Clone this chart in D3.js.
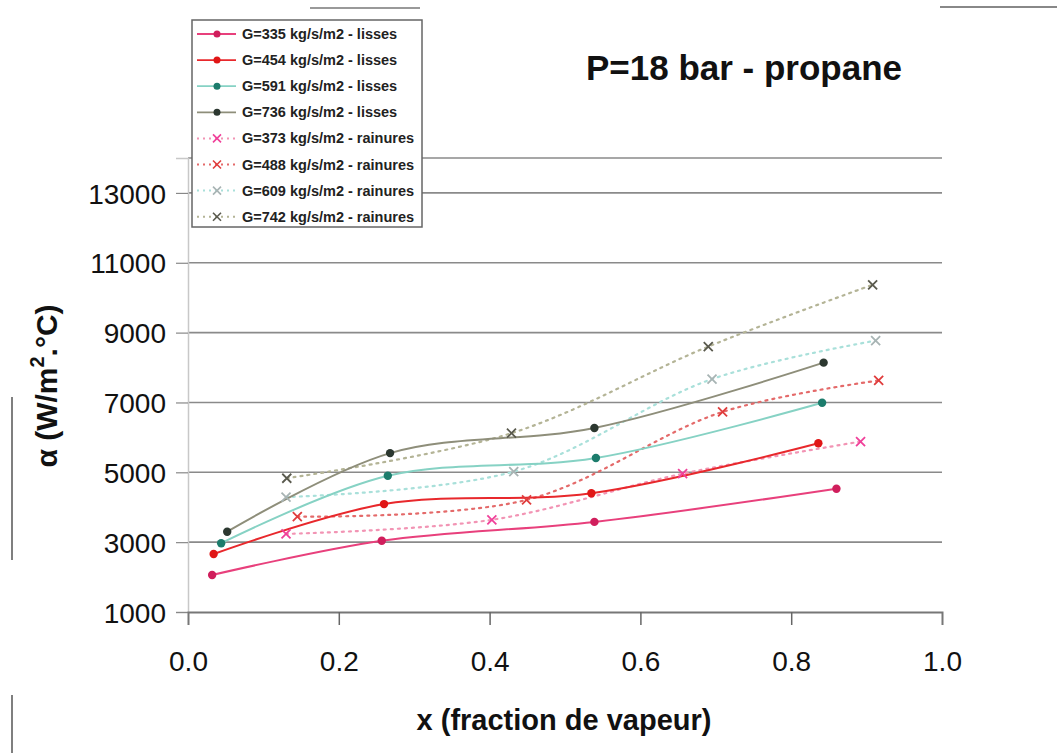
<!DOCTYPE html>
<html><head><meta charset="utf-8">
<script src="https://cdn.jsdelivr.net/npm/d3@7"></script>
<style>
html,body{margin:0;padding:0;background:#fff;}
svg{display:block;font-family:"Liberation Sans",Arial,sans-serif;}
</style></head>
<body>
<svg id="chart" width="1057" height="753"></svg>
<script>
// ---- data ----
const title = "P=18 bar - propane";
const xTitle = "x (fraction de vapeur)";
const xTicks = [0, 0.2, 0.4, 0.6, 0.8, 1.0];
const yTicks = [1000, 3000, 5000, 7000, 9000, 11000, 13000];

const seriesNames = [
  "G=335 kg/s/m2 - lisses",
  "G=454 kg/s/m2 - lisses",
  "G=591 kg/s/m2 - lisses",
  "G=736 kg/s/m2 - lisses",
  "G=373 kg/s/m2 - rainures",
  "G=488 kg/s/m2 - rainures",
  "G=609 kg/s/m2 - rainures",
  "G=742 kg/s/m2 - rainures"
];
const x335 = [0.032, 0.257, 0.539, 0.860];
const y335 = [2060, 3040, 3580, 4530];
const x454 = [0.034, 0.260, 0.535, 0.836];
const y454 = [2660, 4090, 4400, 5830];
const x591 = [0.044, 0.265, 0.541, 0.841];
const y591 = [2970, 4900, 5410, 6990];
const x736 = [0.052, 0.268, 0.539, 0.843];
const y736 = [3300, 5550, 6270, 8140];
const x373 = [0.130, 0.403, 0.656, 0.892];
const y373 = [3235, 3640, 4960, 5880];
const x488 = [0.145, 0.449, 0.709, 0.916];
const y488 = [3730, 4210, 6730, 7630];
const x609 = [0.130, 0.432, 0.695, 0.912];
const y609 = [4290, 5020, 7670, 8770];
const x742 = [0.131, 0.429, 0.690, 0.908];
const y742 = [4830, 6120, 8600, 10370];

const xs = [x335, x454, x591, x736, x373, x488, x609, x742];
const ys = [y335, y454, y591, y736, y373, y488, y609, y742];

// ---- styles ----
const lineColors = ["#e8407c", "#e8282c", "#86d2c4", "#8e8e7a", "#f294b4", "#e46a6a", "#a9e0da", "#b4b496"];
const markColors = ["#d01e5c", "#e01616", "#1c7c6c", "#2c3830", "#f0409a", "#e03c3c", "#a8b4b4", "#5a5a4e"];
const kinds = ["o","o","o","o","x","x","x","x"];

const svg = d3.select("#chart");
const x = d3.scaleLinear().domain([0, 1]).range([188, 942]);
const y = d3.scaleLinear().domain([1000, 14000]).range([612, 158]);

// scan artifacts (decorative)
svg.append("line").attr("x1",310).attr("x2",420).attr("y1",8).attr("y2",8).attr("stroke","#999").attr("stroke-width",2);
svg.append("line").attr("x1",940).attr("x2",1057).attr("y1",7).attr("y2",7).attr("stroke","#888").attr("stroke-width",2);
svg.append("line").attr("x1",12).attr("x2",12).attr("y1",397).attr("y2",560).attr("stroke","#555").attr("stroke-width",1.5);
svg.append("line").attr("x1",12).attr("x2",12).attr("y1",695).attr("y2",753).attr("stroke","#555").attr("stroke-width",1.5);

// gridlines
const grid = svg.append("g");
grid.selectAll("line.g").data(yTicks.filter(d => d > 1000).concat([14000])).enter().append("line")
  .attr("x1", x(0)).attr("x2", x(1))
  .attr("y1", d => y(d)).attr("y2", d => y(d))
  .attr("stroke", "#8a8a8a").attr("stroke-width", 1.6);

// y axis
const yAxis = svg.append("g").attr("transform", `translate(${x(0)},0)`)
  .call(d3.axisLeft(y).tickValues(yTicks).tickSize(12).tickPadding(10).tickFormat(d3.format("d")));
yAxis.select(".domain").attr("stroke", "#c8c8c8").attr("stroke-width", 1.5);
yAxis.selectAll(".tick line").attr("stroke", "#888").attr("stroke-width", 1.2);
yAxis.selectAll(".tick text").attr("font-size", 28).attr("fill", "#111").attr("dy", "0.36em");

// x axis
const xAxis = svg.append("g").attr("transform", `translate(0,${y(1000)})`)
  .call(d3.axisBottom(x).tickValues(xTicks).tickSize(13).tickPadding(26).tickFormat(d3.format(".1f")));
xAxis.select(".domain").attr("stroke", "#777").attr("stroke-width", 2);
xAxis.selectAll(".tick line").attr("stroke", "#666").attr("stroke-width", 1.5)
  .attr("opacity", d => (d === 0 || d === 1) ? 0 : 1);
xAxis.selectAll(".tick text").attr("font-size", 28).attr("fill", "#111");

// series
const line = d3.line().x(d => x(d[0])).y(d => y(d[1])).curve(d3.curveCatmullRom.alpha(0.5));
const plot = svg.append("g");
const order = [4,5,6,7,0,1,2,3];
order.forEach(i => {
  const pts = xs[i].map((v, j) => [v, ys[i][j]]);
  plot.append("path").datum(pts).attr("d", line).attr("fill", "none")
    .attr("stroke", lineColors[i])
    .attr("stroke-width", kinds[i] === "o" ? 2 : 2.2)
    .attr("stroke-dasharray", kinds[i] === "o" ? null : "2,5")
    .attr("stroke-linecap", "round");
});
order.forEach(i => {
  const pts = xs[i].map((v, j) => [v, ys[i][j]]);
  if (kinds[i] === "o") {
    plot.selectAll(null).data(pts).enter().append("circle")
      .attr("cx", d => x(d[0])).attr("cy", d => y(d[1])).attr("r", 4.2)
      .attr("fill", markColors[i]);
  } else {
    plot.selectAll(null).data(pts).enter().append("path")
      .attr("d", d => { const cx = x(d[0]), cy = y(d[1]), s = 4.5;
        return `M${cx-s},${cy-s}L${cx+s},${cy+s}M${cx-s},${cy+s}L${cx+s},${cy-s}`; })
      .attr("stroke", markColors[i]).attr("stroke-width", 1.8).attr("fill", "none");
  }
});

// title
svg.append("text").attr("x", 744).attr("y", 80).attr("text-anchor", "middle")
  .attr("font-size", 35).attr("font-weight", "bold").attr("fill", "#111").text(title);

// x title
svg.append("text").attr("x", 564).attr("y", 730).attr("text-anchor", "middle")
  .attr("font-size", 29).attr("font-weight", "bold").attr("fill", "#111").text(xTitle);

// y title
const yt = svg.append("text").attr("transform", "translate(57,386) rotate(-90)").attr("text-anchor", "middle")
  .attr("font-size", 30).attr("font-weight", "bold").attr("fill", "#111");
yt.append("tspan").text("α (W/m");
yt.append("tspan").attr("dy", -13).attr("font-size", 20).text("2");
yt.append("tspan").attr("dy", 13).text(".°C)");

// legend
const lg = svg.append("g");
lg.append("rect").attr("x", 192).attr("y", 20).attr("width", 230).attr("height", 207)
  .attr("fill", "#fff").attr("stroke", "#666").attr("stroke-width", 1.5);
seriesNames.forEach((name, i) => {
  const cy = 34 + i * 26.1;
  lg.append("line").attr("x1", 197).attr("x2", 236).attr("y1", cy).attr("y2", cy)
    .attr("stroke", lineColors[i]).attr("stroke-width", kinds[i] === "o" ? 1.8 : 2)
    .attr("stroke-dasharray", kinds[i] === "o" ? null : "2,4");
  if (kinds[i] === "o") {
    lg.append("circle").attr("cx", 217).attr("cy", cy).attr("r", 3.5).attr("fill", markColors[i]);
  } else {
    const s = 4;
    lg.append("path").attr("d", `M${217-s},${cy-s}L${217+s},${cy+s}M${217-s},${cy+s}L${217+s},${cy-s}`)
      .attr("stroke", markColors[i]).attr("stroke-width", 1.6);
  }
  lg.append("text").attr("x", 242).attr("y", cy).attr("dy", "0.35em")
    .attr("font-size", 14.5).attr("font-weight", "bold").attr("fill", "#222").text(name);
});
</script>
</body></html>
